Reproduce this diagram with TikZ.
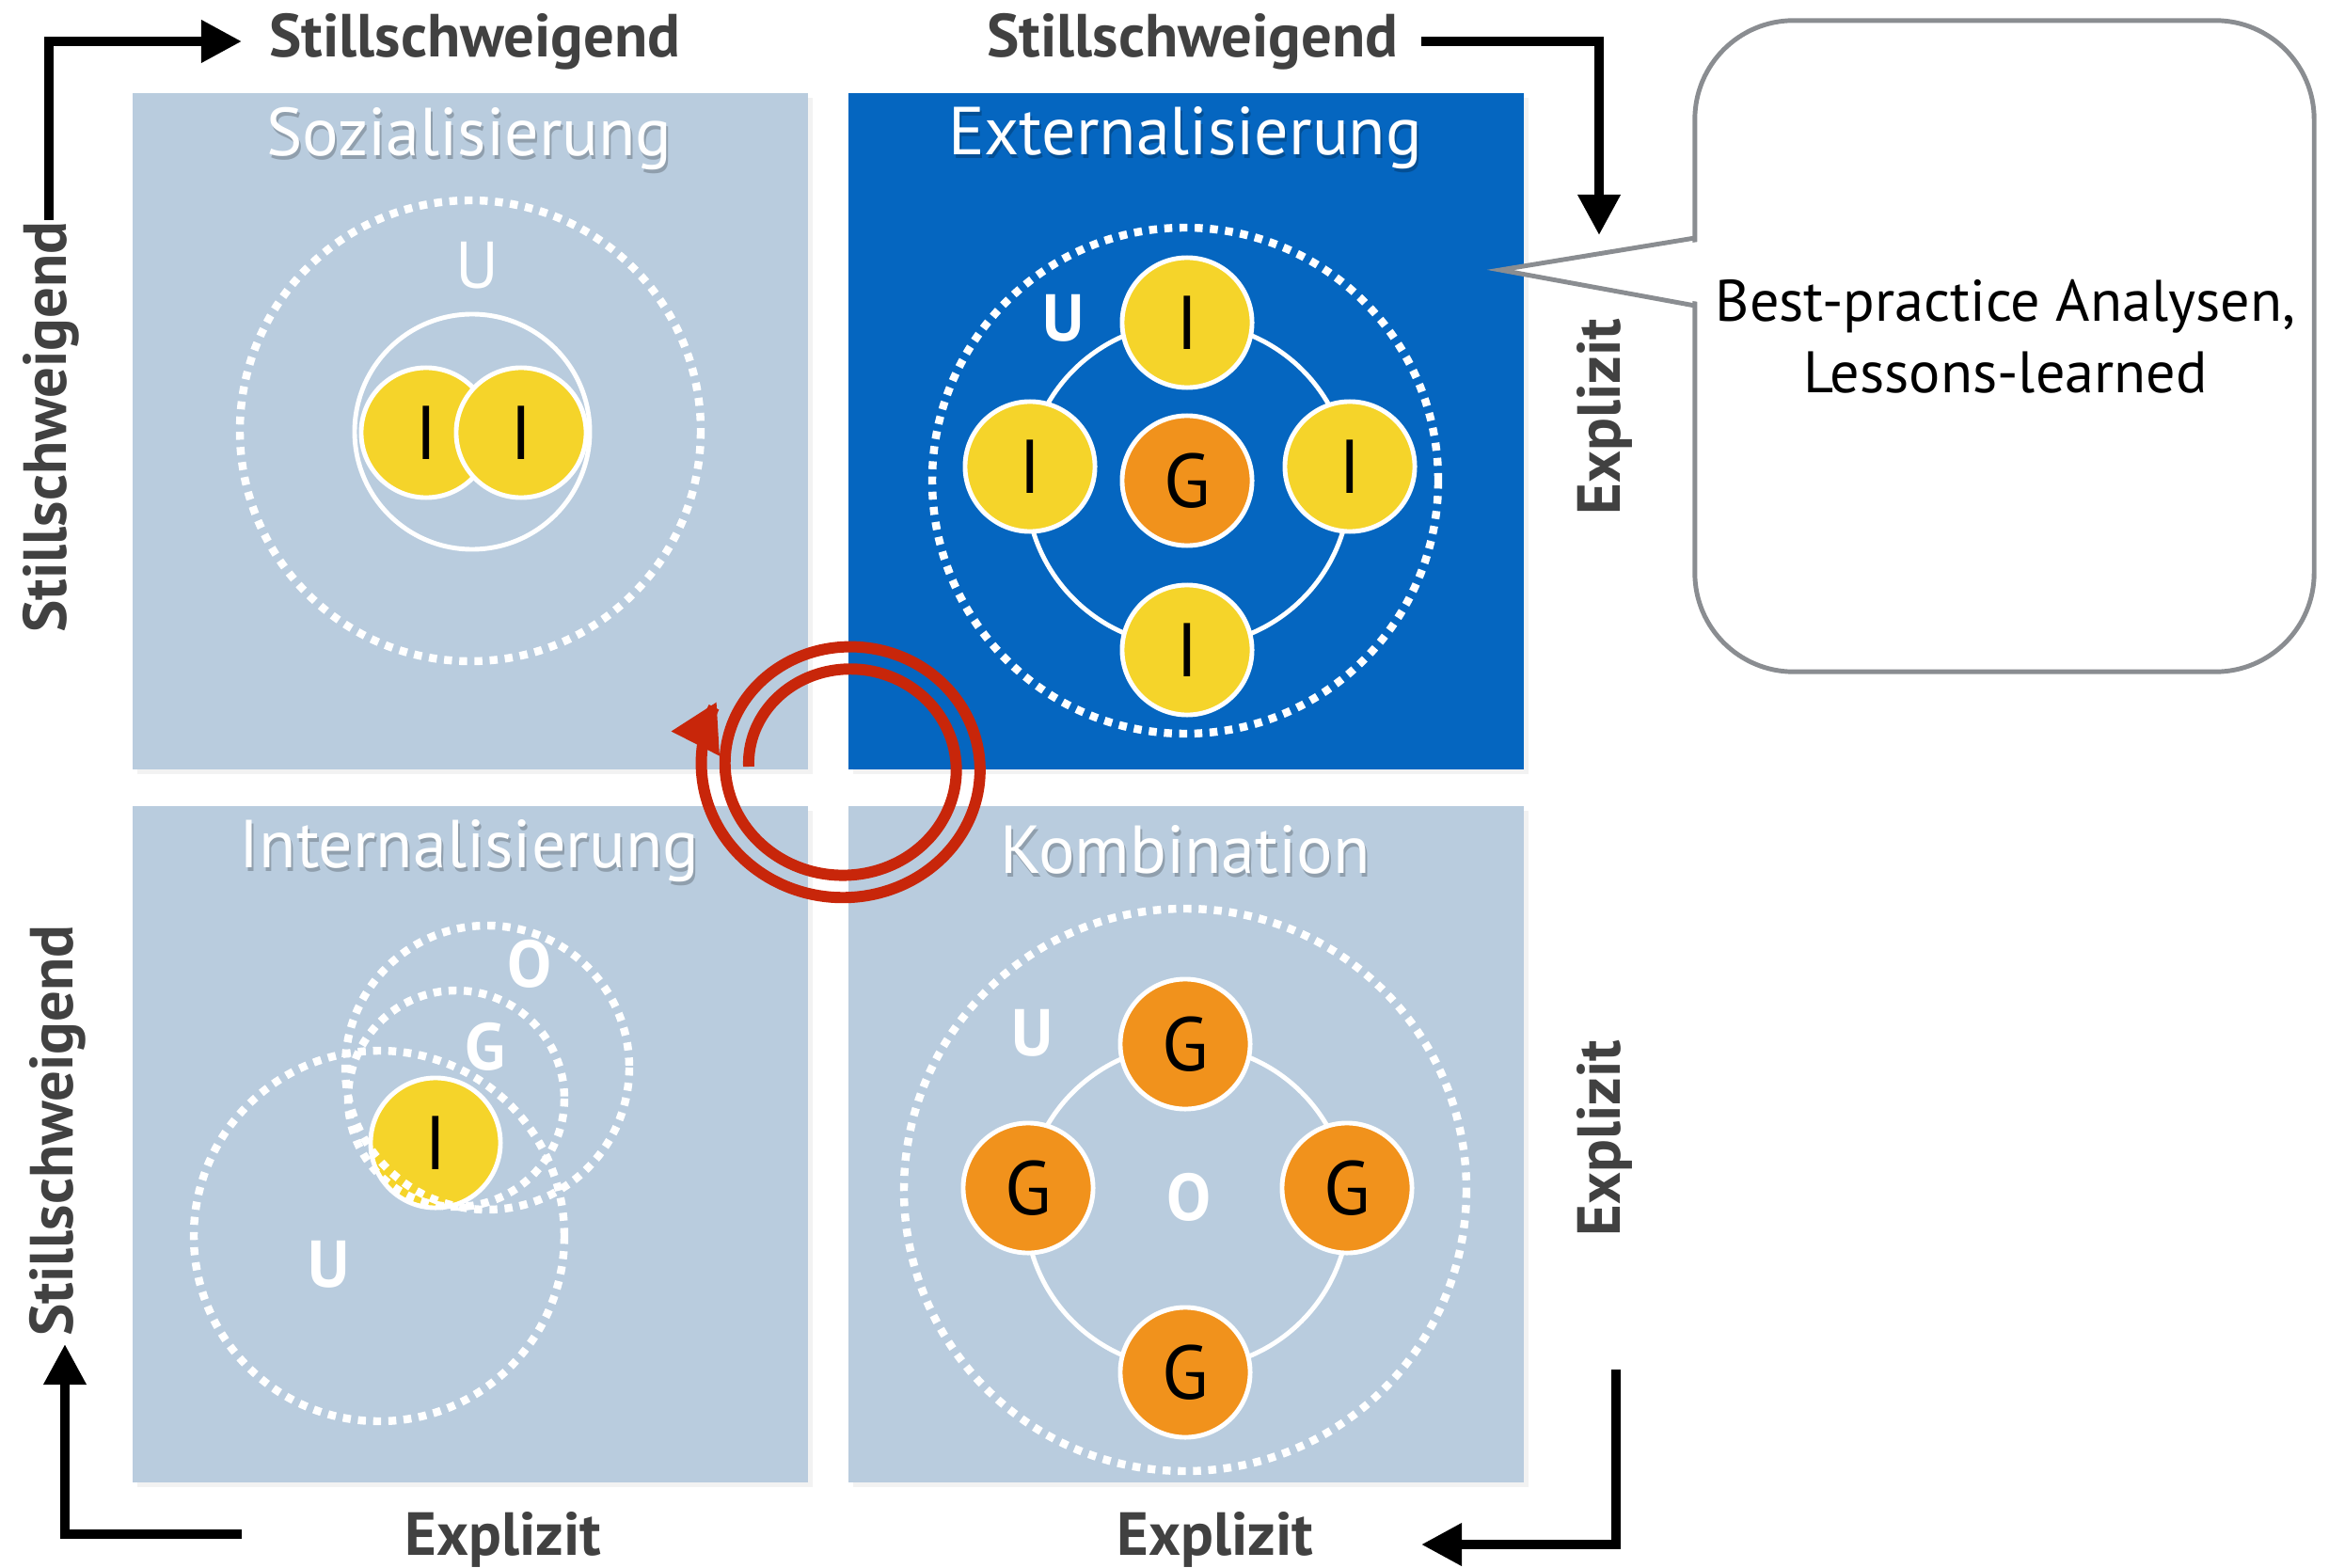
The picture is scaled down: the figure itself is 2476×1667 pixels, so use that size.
\documentclass[tikz,border=0pt]{standalone}
\usepackage{fontspec}
\setmainfont{PT Sans}
\usetikzlibrary{arrows.meta,shadows}

\definecolor{boxlight}{RGB}{185,204,222}
\definecolor{boxdark}{RGB}{5,102,192}
\definecolor{persyellow}{RGB}{245,212,42}
\definecolor{grouporange}{RGB}{241,146,28}
\definecolor{spiralred}{RGB}{200,38,10}
\definecolor{labelgray}{RGB}{65,65,65}
\definecolor{calloutgray}{RGB}{138,141,145}

\tikzset{
  quad/.style={minimum width=7.18cm, minimum height=7.19cm, inner sep=0pt,
    drop shadow={opacity=0.1, shadow xshift=0.05cm, shadow yshift=-0.05cm}},
  title/.style={text=white, font=\fontsize{20.5}{24}\selectfont},
  titleshade/.style={text=black, opacity=0.22, font=\fontsize{20.5}{24}\selectfont},
  pers/.style={circle, fill=persyellow, draw=white, line width=1.4pt,
    minimum size=1.38cm, inner sep=0pt, font=\fontsize{23}{23}\selectfont},
  group/.style={pers, fill=grouporange},
  ring/.style={draw=white, line width=1.4pt},
  env/.style={draw=white, line width=2.4pt, dash pattern=on 2.4pt off 2.2pt},
  letter/.style={text=white, font=\bfseries\fontsize{20}{20}\selectfont},
  axis/.style={line width=2.85pt, -{Triangle[length=0.43cm,width=0.43cm]}},
  axislabel/.style={text=labelgray, font=\bfseries\fontsize{18.4}{18.4}\selectfont},
  spiral/.style={draw=spiralred, line width=3.4pt,
    -{Triangle[length=0.5cm,width=0.54cm]}},
  callout/.style={draw=calloutgray, fill=white, line width=1.4pt,
    rounded corners=1.05cm, minimum width=6.58cm, minimum height=6.92cm},
  notetext/.style={align=center, font=\fontsize{17.7}{21.6}\selectfont}
}

\begin{document}
\begin{tikzpicture}[x=0.01cm, y=-0.01cm]

  % Fix the page size
  \useasboundingbox (0,0) rectangle (2476,1667);

  % The four quadrants
  \node[quad, fill=boxlight] (soz) at (500,458.5) {};
  \node[quad, fill=boxdark] (ext) at (1261,458.5) {};
  \node[quad, fill=boxlight] (int) at (500,1216.5) {};
  \node[quad, fill=boxlight] (kom) at (1261,1216.5) {};

  % Quadrant titles with a soft shadow
  \foreach \x/\y/\t/\n in {499/147/Sozialisierung/soz,
                           1260/147/Externalisierung/ext,
                           499/905/Internalisierung/int,
                           1260/903/Kombination/kom} {
    \node[titleshade] at (\x+2,\y+4) {\t};
    \node[title] (\n-title) at (\x,\y) {\t};
  }

  % Sozialisierung: two persons inside one circle
  \draw[env] (500,458) circle[radius=245];
  \draw[ring] (502,459) circle[radius=125];
  \node[letter, font=\fontsize{20}{20}\selectfont] (soz-u) at (507,282) {U};
  \node[pers] (soz-i1) at (453,460) {I};
  \node[pers] (soz-i2) at (554,460) {I};

  % Externalisierung: persons round a group
  \draw[env] (1260,511) circle[radius=269];
  \draw[ring] (1263,515) circle[radius=172];
  \node[letter] (ext-u) at (1131,338) {U};
  \node[pers] (ext-i1) at (1262,343) {I};
  \node[pers] (ext-i2) at (1095,496) {I};
  \node[pers] (ext-i3) at (1435,496) {I};
  \node[pers] (ext-i4) at (1262,691) {I};
  \node[group] (ext-g) at (1262,511) {G};

  % Internalisierung: one person inside nested circles
  \node[pers] (int-i) at (463,1215) {I};
  \draw[env] (403,1314) circle[radius=197];
  \draw[env] (485,1168) circle[radius=115];
  \draw[env] (518,1135) circle[radius=151];
  \node[letter] (int-o) at (563,1025) {O};
  \node[letter] (int-g) at (516,1113) {G};
  \node[letter] (int-u) at (350,1344) {U};

  % Kombination: groups round the organisation
  \draw[env] (1260,1265) circle[radius=299];
  \draw[ring] (1262,1283) circle[radius=172];
  \node[letter] (kom-u) at (1098,1098) {U};
  \node[letter] (kom-o) at (1264,1273) {O};
  \node[group] (kom-g1) at (1260,1110) {G};
  \node[group] (kom-g2) at (1093,1263) {G};
  \node[group] (kom-g3) at (1432,1263) {G};
  \node[group] (kom-g4) at (1260,1459) {G};

  % The knowledge spiral
  \draw[spiral] plot[domain=180:928, samples=240, smooth]
    ({900+(104+0.07*(\x-180))*cos(\x)}, {815+0.94*(104+0.07*(\x-180))*sin(\x)});

  % Axis arrows round the matrix
  \coordinate (tl-start) at (52,234);
  \coordinate (tl-end) at (257,44);
  \coordinate (tr-start) at (1511,44);
  \coordinate (tr-end) at (1700,250);
  \coordinate (br-start) at (1718,1456);
  \coordinate (br-end) at (1511,1642);
  \coordinate (bl-start) at (257,1631);
  \coordinate (bl-end) at (69,1429);
  \draw[axis] (tl-start) |- (tl-end);
  \draw[axis] (tr-start) -| (tr-end);
  \draw[axis] (br-start) |- (br-end);
  \draw[axis] (bl-start) -| (bl-end);

  % Axis labels
  \node[axislabel] (top-left) at (505,44) {Stillschweigend};
  \node[axislabel] (top-right) at (1268,44) {Stillschweigend};
  \node[axislabel, rotate=90] (left-top) at (54,454) {Stillschweigend};
  \node[axislabel, rotate=90] (left-bottom) at (61,1202) {Stillschweigend};
  \node[axislabel, rotate=90] (right-top) at (1706,443) {Explizit};
  \node[axislabel, rotate=90] (right-bottom) at (1706,1210) {Explizit};
  \node[axislabel] (bottom-left) at (535,1637) {Explizit};
  \node[axislabel] (bottom-right) at (1292,1637) {Explizit};

  % Callout with its pointer into Externalisierung
  \node[callout] (note) at (2131,368) {};
  \coordinate (note-tip) at (1595,287);
  \coordinate (note-top) at (1802,253);
  \coordinate (note-bottom) at (1802,325);
  \fill[white] (1806,257) -- (note-tip) -- (1806,321) -- cycle;
  \draw[calloutgray, line width=1.4pt] (note-top) -- (note-tip) -- (note-bottom);
  \node[notetext] (note-text) at (2132,358) {Best-practice Analysen,\\Lessons-learned};

\end{tikzpicture}
\end{document}
